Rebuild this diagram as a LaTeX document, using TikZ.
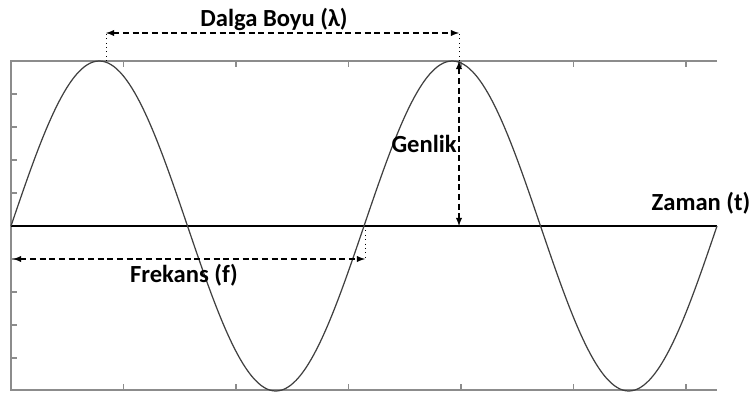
\documentclass[tikz,border=0pt]{standalone}
\usepackage{fontspec}
\setmainfont{Carlito}
\usetikzlibrary{arrows.meta}

\begin{document}
\begin{tikzpicture}[x=0.02cm, y=-0.02cm, >=latex,
  frame/.style={black!45, line width=1pt},
  wave/.style={black!75, line width=0.7pt},
  dimline/.style={<->, black, line width=0.6pt, dash pattern=on 3.5pt off 2pt},
  guide/.style={black, line width=0.5pt, dotted},
  lbl/.style={font=\bfseries\fontsize{14}{16}\selectfont, inner sep=0pt}]

% Parameters
\def\xa{11}
\def\xb{717}
\def\yt{61}
\def\yb{390}
\def\yz{226}
\def\A{165}
\def\P{353}

\useasboundingbox (0,0) rectangle (753,392);

% Frame
\draw[frame] (\xb,\yt) -- (\xa,\yt) -- (\xa,\yb) -- (\xb,\yb);

% Ticks
\foreach \k in {1,...,6} {
  \draw[frame] ({\xa+112.5*\k},\yt) -- ++(0,6);
  \draw[frame] ({\xa+112.5*\k},\yb) -- ++(0,-6);
}
\foreach \k in {-4,-3,-2,-1,1,2,3,4}
  \draw[frame] (\xa,{\yz+33*\k}) -- ++(6,0);

% Time axis
\draw[black, line width=1.4pt] (\xa,\yz) -- (\xb,\yz);

% Wave
\draw[wave] plot[domain=\xa:\xb, samples=241, smooth]
  (\x,{\yz-\A*sin((\x-\xa)*(360/\P))});

% Wavelength
\coordinate (p1) at (106,\yt);
\coordinate (p2) at (459,\yt);
\coordinate (l1) at (106,33);
\coordinate (l2) at (459,33);
\draw[guide] (p1) -- (l1);
\draw[guide] (p2) -- (l2);
\draw[dimline] (l1) -- (l2);
\node[lbl] (dalga) at (274,19) {Dalga Boyu (λ)};

% Amplitude
\coordinate (z2) at (459,\yz);
\draw[dimline] (p2) -- (z2);
\node[lbl, anchor=east] (genlik) at (457,144) {Genlik};

% Frequency
\coordinate (c1) at (365,\yz);
\coordinate (f0) at (13,259);
\coordinate (f1) at (365,259);
\draw[guide] (c1) -- (f1);
\draw[dimline] (f0) -- (f1);
\node[lbl] (frekans) at (184,275) {Frekans (f)};

% Axis label
\node[lbl] (zaman) at (701,203) {Zaman (t)};

\end{tikzpicture}
\end{document}
